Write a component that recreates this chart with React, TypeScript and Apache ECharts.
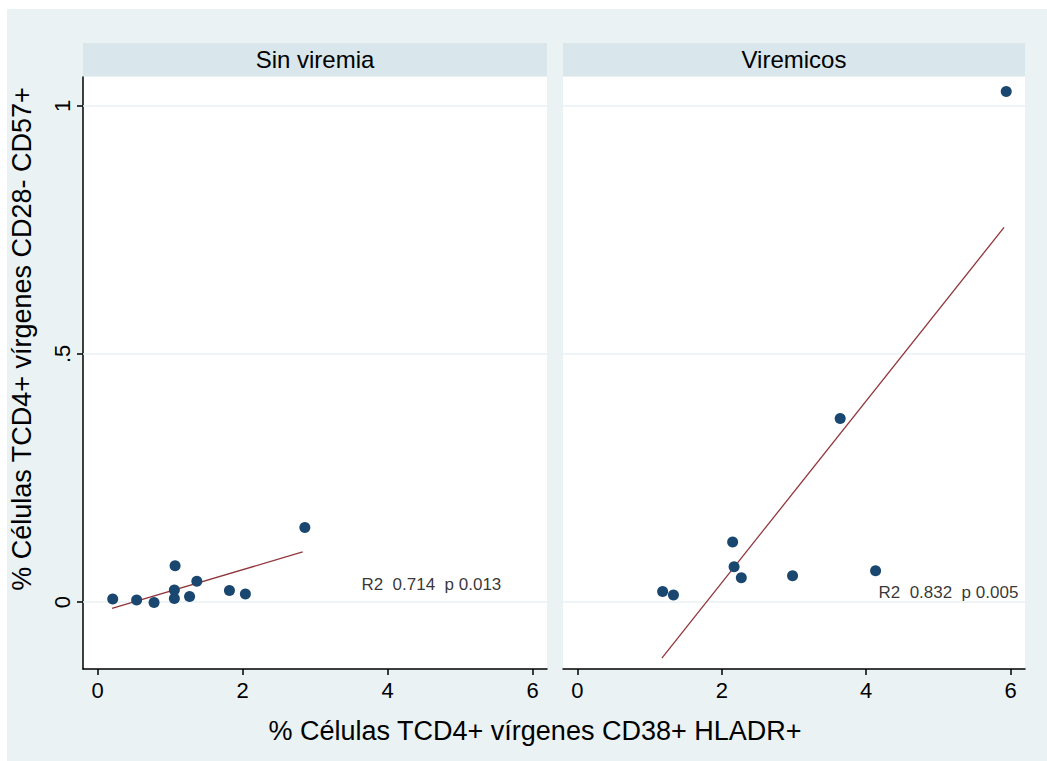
import React, { useEffect, useRef } from "react";
import * as echarts from "echarts";

// ---- data ----
const panelTitles = ["Sin viremia", "Viremicos"];
const xTicks = [0, 2, 4, 6];
const yTicks = [0, 0.5, 1];

const sinX = [0.21, 0.54, 0.78, 1.07, 1.06, 1.06, 1.27, 1.37, 1.82, 2.04, 2.86];
const sinY = [0.006, 0.004, -0.001, 0.073, 0.024, 0.007, 0.011, 0.042, 0.023, 0.016, 0.150];
const sinFitX = [0.2, 2.83];
const sinFitY = [-0.013, 0.101];

const virX = [1.18, 1.33, 2.15, 2.17, 2.27, 2.98, 3.64, 4.13, 5.94];
const virY = [0.021, 0.014, 0.121, 0.071, 0.049, 0.053, 0.37, 0.063, 1.029];
const virFitX = [1.17, 5.91];
const virFitY = [-0.113, 0.755];

const sinNote = { x: 3.64, y: 0.035, text: "R2  0.714  p 0.013" };
const virNote = { x: 4.17, y: 0.02, text: "R2  0.832  p 0.005" };

const xTitle = "% Células TCD4+ vírgenes CD38+ HLADR+";
const yTitle = "% Células TCD4+ vírgenes CD28- CD57+";

const FONT = "'Liberation Sans', Arial, sans-serif";
const NAVY = "#1a476f";
const MAROON = "#90353b";
const BG = "#EAF2F3";
const STRIP = "#D9E6EB";

const zip = (a: number[], b: number[]) => a.map((v, i) => [v, b[i]]);

export default function App() {
  const ref = useRef<HTMLDivElement>(null);
  useEffect(() => {
    if (!ref.current) return;
    const chart = echarts.init(ref.current, null, { renderer: "svg" });

    const grids = [
      { left: 76, top: 68, width: 464, height: 592 },
      { left: 556, top: 68, width: 462, height: 592 },
    ];

    const xAxis = grids.map((_, i) => ({
      type: "value",
      gridIndex: i,
      min: -0.2,
      max: 6.2,
      splitLine: { show: false },
      axisLine: { show: true, onZero: false, lineStyle: { color: "#000", width: 1.5 } },
      axisTick: { show: true, customValues: xTicks, length: 6, lineStyle: { color: "#000", width: 1.5 } },
      axisLabel: {
        customValues: xTicks,
        color: "#000",
        fontSize: 22,
        fontFamily: FONT,
        margin: 10,
      },
    }));

    const yAxis = grids.map((_, i) => ({
      type: "value",
      gridIndex: i,
      min: -0.135,
      max: 1.058,
      splitLine: { show: false },
      axisLine: { show: i === 0, onZero: false, lineStyle: { color: "#000", width: 1.5 } },
      axisTick: { show: i === 0, customValues: yTicks, length: 6, lineStyle: { color: "#000", width: 1.5 } },
      axisLabel: {
        show: i === 0,
        customValues: yTicks,
        rotate: 90,
        color: "#000",
        fontSize: 22,
        fontFamily: FONT,
        margin: 10,
        formatter: (v: number) => (v === 0.5 ? ".5" : String(v)),
      },
    }));

    const panels = [
      { xs: sinX, ys: sinY, fx: sinFitX, fy: sinFitY, note: sinNote },
      { xs: virX, ys: virY, fx: virFitX, fy: virFitY, note: virNote },
    ];

    const series: any[] = [];
    panels.forEach((p, i) => {
      // horizontal grid lines at the y ticks
      series.push({
        type: "line",
        xAxisIndex: i,
        yAxisIndex: i,
        data: [],
        z: 1,
        markLine: {
          silent: true,
          z: 1,
          symbol: "none",
          label: { show: false },
          lineStyle: { color: BG, width: 1.5, type: "solid" },
          data: yTicks.map((v) => ({ yAxis: v })),
        },
      });
      series.push({
        type: "line",
        xAxisIndex: i,
        yAxisIndex: i,
        data: zip(p.fx, p.fy),
        showSymbol: false,
        symbol: "none",
        z: 6,
        lineStyle: { color: MAROON, width: 1.3 },
      });
      series.push({
        type: "scatter",
        xAxisIndex: i,
        yAxisIndex: i,
        data: zip(p.xs, p.ys),
        symbol: "circle",
        symbolSize: 11,
        z: 7,
        itemStyle: { color: NAVY, opacity: 1 },
      });
      series.push({
        type: "scatter",
        xAxisIndex: i,
        yAxisIndex: i,
        data: [[p.note.x, p.note.y]],
        symbolSize: 0,
        z: 8,
        label: {
          show: true,
          position: [0, 0],
          align: "left",
          verticalAlign: "middle",
          formatter: p.note.text,
          color: "#000",
          fontSize: 17,
          fontFamily: FONT,
        },
      });
    });

    const graphic: any[] = [];
    grids.forEach((g, i) => {
      graphic.push({
        type: "rect",
        shape: { x: g.left, y: 34, width: g.width, height: 33 },
        style: { fill: STRIP },
      });
      graphic.push({
        type: "text",
        x: g.left + g.width / 2,
        y: 34 + 33 / 2,
        style: {
          text: panelTitles[i],
          fill: "#000",
          font: `24px ${FONT}`,
          align: "center",
          verticalAlign: "middle",
        },
      });
    });
    graphic.push({
      type: "text",
      x: 528,
      y: 722,
      style: {
        text: xTitle,
        fill: "#000",
        font: `27px ${FONT}`,
        align: "center",
        verticalAlign: "middle",
      },
    });
    graphic.push({
      type: "text",
      x: 15,
      y: 330,
      rotation: Math.PI / 2,
      style: {
        text: yTitle,
        fill: "#000",
        font: `27px ${FONT}`,
        align: "center",
        verticalAlign: "middle",
      },
    });

    chart.setOption({
      animation: false,
      backgroundColor: BG,
      grid: grids.map((g) => ({ ...g, show: true, backgroundColor: "#fff", borderWidth: 0 })),
      xAxis,
      yAxis,
      series,
      graphic,
    });
    return () => chart.dispose();
  }, []);

  return (
    <div
      ref={ref}
      style={{ position: "absolute", left: 7, top: 9, width: 1040, height: 752 }}
    />
  );
}
